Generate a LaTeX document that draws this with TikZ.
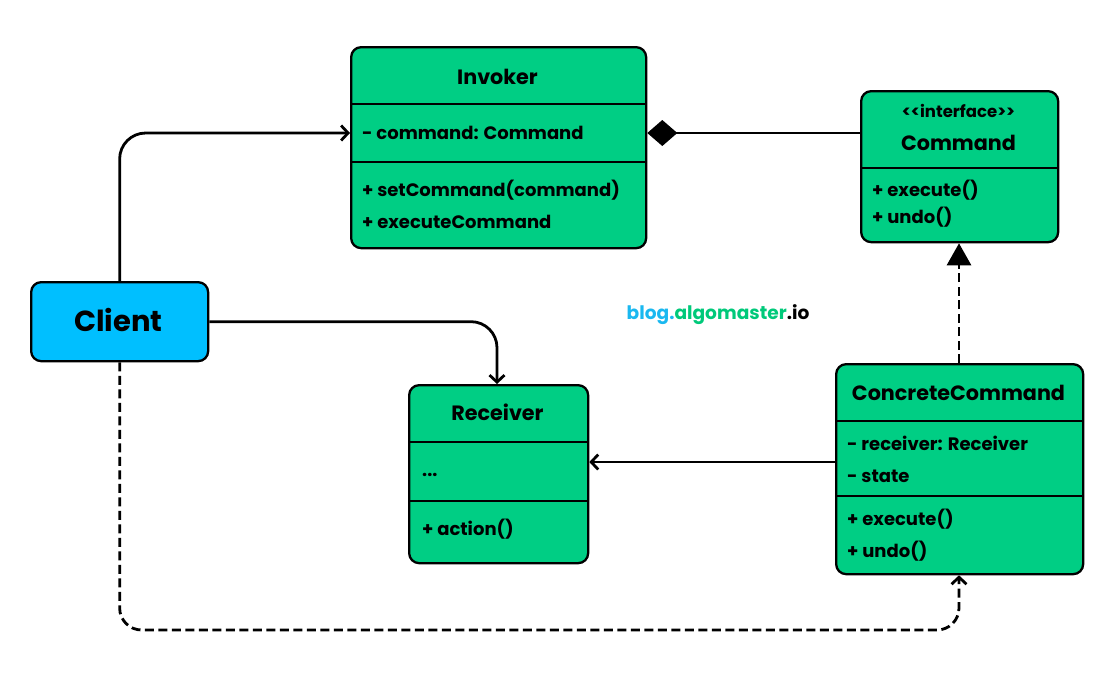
\documentclass[tikz,border=0pt]{standalone}
\usepackage{fontspec}
\setmainfont{Poppins}
\usetikzlibrary{arrows.meta}
\definecolor{boxgreen}{HTML}{00CE84}
\definecolor{clientblue}{HTML}{00BFFF}
\definecolor{wmblue}{HTML}{1AB8F0}
\definecolor{wmgreen}{HTML}{00C97A}
\begin{document}
\begin{tikzpicture}[x=1pt,y=-1pt,
  box/.style={draw, line width=2.3pt, rounded corners=10pt, fill=boxgreen, inner sep=0pt, anchor=north west},
  divline/.style={line width=2.3pt},
  ttl/.style={font=\bfseries\fontsize{20.7}{24}\selectfont, text height=14.5pt, text depth=0pt, inner sep=0pt},
  attr/.style={font=\bfseries\fontsize{18}{21}\selectfont, text height=12.6pt, text depth=0pt, inner sep=0pt, anchor=west},
  conn/.style={line width=2.8pt},
  dsh/.style={line width=2.8pt, dash pattern=on 9pt off 4.5pt},
  arr/.style={-{Straight Barb[length=7pt,width=15pt,line width=2.8pt]}},
]
\useasboundingbox (0,0) rectangle (1118,678);

% Invoker
\node[box, minimum width=295pt, minimum height=201pt] (inv) at (350,46) {};
\draw[divline] (350,104) -- (645,104);
\draw[divline] (350,162) -- (645,162);
\node[ttl] (invt) at (497.5,77) {Invoker};
\node[attr] (inva) at (362,133) {- command: Command};
\node[attr] (invm1) at (362,190) {+ setCommand(command)};
\node[attr] (invm2) at (362,222) {+ executeCommand};

% Command
\node[box, minimum width=197pt, minimum height=151pt] (cmd) at (860,90) {};
\draw[divline] (860,168) -- (1057,168);
\node[font=\bfseries\fontsize{16.5}{18}\selectfont, text height=11.5pt, text depth=0pt, inner sep=0pt] (cmds) at (958.5,112) {<{}<interface>{}>};
\node[ttl] (cmdt) at (958.5,143) {Command};
\node[attr] (cmdm1) at (872,190) {+ execute()};
\node[attr] (cmdm2) at (872,217) {+ undo()};

% Client
\node[box, fill=clientblue, minimum width=177pt, minimum height=79pt] (cli) at (30,281) {};
\node[font=\bfseries\fontsize{29}{32}\selectfont, text height=20.3pt, text depth=0pt, inner sep=0pt] (clit) at (118.5,321) {Client};

% Receiver
\node[box, minimum width=179pt, minimum height=178pt] (rcv) at (408,384) {};
\draw[divline] (408,442) -- (587,442);
\draw[divline] (408,501) -- (587,501);
\node[ttl] (rcvt) at (497.5,413) {Receiver};
\node[attr] (rcva) at (422,470) {...};
\node[attr] (rcvm) at (422,529) {+ action()};

% ConcreteCommand
\node[box, minimum width=247pt, minimum height=210pt] (cc) at (835,363) {};
\draw[divline] (835,421) -- (1082,421);
\draw[divline] (835,496) -- (1082,496);
\node[ttl] (cct) at (958.5,393) {ConcreteCommand};
\node[attr] (cca1) at (847,444) {- receiver: Receiver};
\node[attr] (cca2) at (847,476) {- state};
\node[attr] (ccm1) at (847,519) {+ execute()};
\node[attr] (ccm2) at (847,551) {+ undo()};

% watermark
\node[font=\bfseries\fontsize{18.6}{22}\selectfont, text height=13pt, text depth=0pt, inner sep=0pt] (wm) at (718,313)
  {\textcolor{wmblue}{blog.}\textcolor{wmgreen}{algomaster}\textcolor{black}{.io}};

% connectors
\coordinate (yrow) at (0,133);
\coordinate (ymid) at (0,462);
\coordinate (ybot) at (0,630);
\coordinate (xrcv) at (497,0);
\coordinate (xcc) at (959,0);

\draw[conn, arr, rounded corners=26pt] (cli.north) |- (inv.west |- yrow);
\draw[conn, -{Diamond[length=30pt,width=26pt]}] (cmd.west |- yrow) -- (inv.east |- yrow);
\draw[conn, arr, rounded corners=26pt] (cli.east) -| (xrcv |- rcv.north);
\draw[conn, arr] (cc.west |- ymid) -- (rcv.east |- ymid);
\draw[dsh, -{Triangle[length=22pt,width=24pt]}] (xcc |- cc.north) -- (xcc |- cmd.south);
\draw[dsh, arr, rounded corners=22pt] (cli.south) |- (xcc |- ybot) -- (xcc |- cc.south);
\end{tikzpicture}
\end{document}
